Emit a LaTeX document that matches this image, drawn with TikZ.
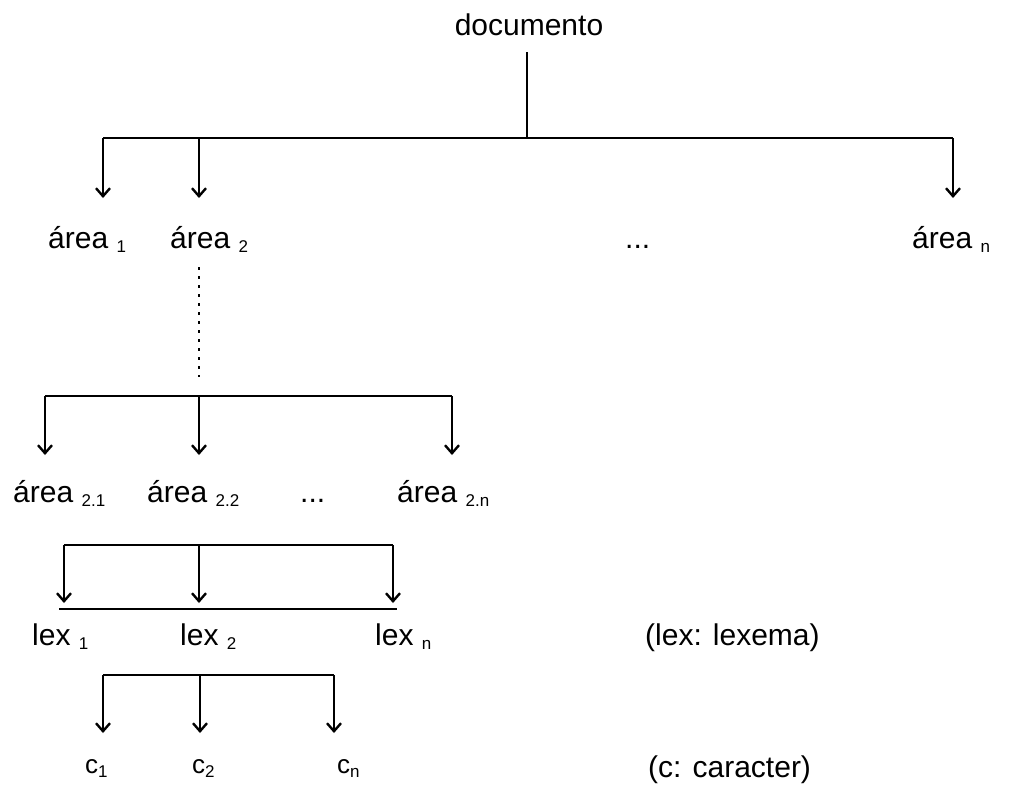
\documentclass[tikz,border=0pt]{standalone}
\usepackage{fontspec}
\setmainfont{Liberation Sans}
\usepackage{tikz}
\usetikzlibrary{arrows.meta}
\newcommand\lblfont{\fontsize{30}{36}\selectfont}
\newcommand\idx[1]{\raisebox{-4pt}{\fontsize{17}{20}\selectfont #1}}

\begin{document}
\begin{tikzpicture}[
    x=1pt, y=-1pt,
    lbl/.style={font=\lblfont, inner sep=0pt, anchor=base west},
    chr/.style={font=\fontsize{26}{30}\selectfont, inner sep=0pt, anchor=base west},
    bar/.style={line width=1.6pt},
    arrow/.style={line width=1.6pt, -{Straight Barb[length=8pt, width=14pt, line width=2.4pt]}},
    dots/.style={line width=1.6pt, dash pattern=on 3pt off 6pt}
]
    \useasboundingbox (0,0) rectangle (1010,785);

    % level 0
    \node[lbl, anchor=base] (doc) at (529,35) {documento};
    \coordinate (rootbar) at (527,138);
    \coordinate (r1) at (103,138);
    \coordinate (rn) at (953,138);
    \draw[bar] ([xshift=-2pt, yshift=-17pt]doc.south) -- (rootbar);
    \draw[bar] (r1) -- (rn);
    \coordinate (t1) at (103,198);
    \coordinate (t2) at (199,198);
    \coordinate (tn) at (953,198);
    \draw[arrow] (r1) -- (t1);
    \draw[arrow] (r1 -| t2) -- (t2);
    \draw[arrow] (rn) -- (tn);

    \node[lbl] (a1) at (48,248) {área \idx{1}};
    \node[lbl] (a2) at (170,248) {área \idx{2}};
    \node[lbl] (adots) at (625,248) {...};
    \node[lbl] (an) at (912,248) {área \idx{n}};

    % level 1
    \coordinate (d0) at (199,267);
    \coordinate (d1) at (199,377);
    \draw[dots] (d0) -- (d1);
    \coordinate (s1) at (45,396);
    \coordinate (sn) at (452,396);
    \draw[bar] (s1) -- (sn);
    \coordinate (u1) at (45,455);
    \coordinate (u2) at (199,455);
    \coordinate (un) at (452,455);
    \draw[arrow] (s1) -- (u1);
    \draw[arrow] (s1 -| u2) -- (u2);
    \draw[arrow] (sn) -- (un);

    \node[lbl] (a21) at (13,502) {área \idx{2.1}};
    \node[lbl] (a22) at (147,502) {área \idx{2.2}};
    \node[lbl] (a2dots) at (300,502) {...};
    \node[lbl] (a2n) at (397,502) {área \idx{2.n}};

    % level 2
    \coordinate (l1) at (64,545);
    \coordinate (ln) at (393,545);
    \draw[bar] (l1) -- (ln);
    \coordinate (v1) at (64,603);
    \coordinate (v2) at (199,603);
    \coordinate (vn) at (393,603);
    \draw[arrow] (l1) -- (v1);
    \draw[arrow] (l1 -| v2) -- (v2);
    \draw[arrow] (ln) -- (vn);
    \coordinate (base1) at (59,609);
    \coordinate (basen) at (397,609);
    \draw[bar] (base1) -- (basen);

    \node[lbl] (lex1) at (32,645) {lex \idx{1}};
    \node[lbl] (lex2) at (180,645) {lex \idx{2}};
    \node[lbl] (lexn) at (375,645) {lex \idx{n}};
    \node[lbl] (lexnote) at (645,645) {(lex: lexema)};

    % level 3
    \coordinate (k1) at (103,675);
    \coordinate (kn) at (334,675);
    \draw[bar] (k1) -- (kn);
    \coordinate (w1) at (103,733);
    \coordinate (w2) at (200,733);
    \coordinate (wn) at (334,733);
    \draw[arrow] (k1) -- (w1);
    \draw[arrow] (k1 -| w2) -- (w2);
    \draw[arrow] (kn) -- (wn);

    \node[chr] (c1) at (85,773) {c\idx{1}};
    \node[chr] (c2) at (192,773) {c\idx{2}};
    \node[chr] (cn) at (337,773) {c\idx{n}};
    \node[lbl] (cnote) at (648,777) {(c: caracter)};
\end{tikzpicture}
\end{document}
